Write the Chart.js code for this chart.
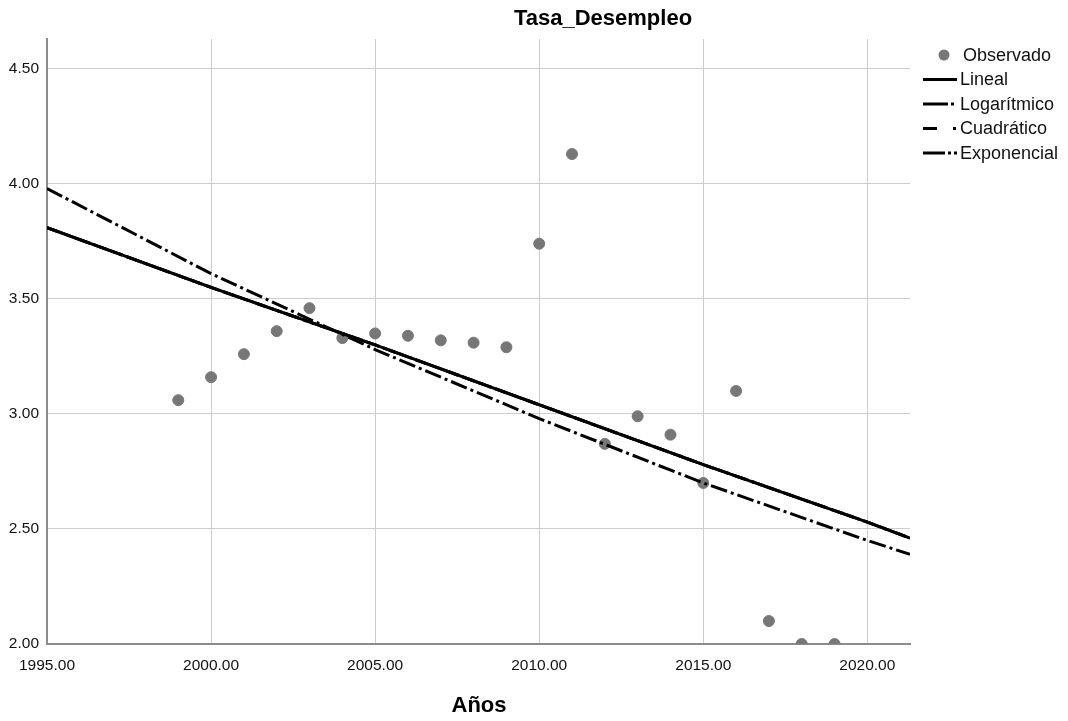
<!DOCTYPE html>
<html>
<head>
<meta charset="utf-8">
<script src="https://cdn.jsdelivr.net/npm/chart.js@4.4.0/dist/chart.umd.min.js"></script>
<style>
	html, body { margin: 0; padding: 0; background: #fff; }
	#wrap { width: 1068px; height: 721px; }
</style>
</head>
<body>
<div id="wrap"><canvas id="grafico" width="1068" height="721"></canvas></div>
<script>
// observed values
var years = [1999, 2000, 2001, 2002, 2003, 2004, 2005, 2006, 2007, 2008, 2009, 2010, 2011, 2012, 2013, 2014, 2015, 2016, 2017, 2018, 2019];
var tasa = [3.06, 3.16, 3.26, 3.36, 3.46, 3.33, 3.35, 3.34, 3.32, 3.31, 3.29, 3.74, 4.13, 2.87, 2.99, 2.91, 2.70, 3.10, 2.10, 2.00, 2.00];

// fitted curves, read at a few x positions
var fitYears = [1995, 2000, 2005, 2010, 2015, 2020, 2021.3];
var lineal = [3.81, 3.55, 3.30, 3.04, 2.78, 2.53, 2.46];
var logaritmico = [3.81, 3.55, 3.30, 3.04, 2.78, 2.53, 2.46];
var cuadratico = [3.81, 3.55, 3.30, 3.04, 2.78, 2.53, 2.46];
var exponencial = [3.98, 3.61, 3.28, 2.98, 2.70, 2.45, 2.39];

var xTicks = [1995, 2000, 2005, 2010, 2015, 2020];
var yTicks = [2.00, 2.50, 3.00, 3.50, 4.00, 4.50];

var titulo = 'Tasa_Desempleo';
var ejeX = 'Años';
var nombres = ['Observado', 'Lineal', 'Logarítmico', 'Cuadrático', 'Exponencial'];

(function() {
	var font = "'Liberation Sans', Arial, sans-serif";
	var gris = '#777777';

	function pares(xs, ys) {
		return xs.map(function(x, i) {
			return { x: x, y: ys[i] };
		});
	}

	function curva(nombre, valores, dash, orden) {
		return {
			label: nombre,
			data: pares(fitYears, valores),
			showLine: true,
			borderColor: '#000',
			borderWidth: 3,
			borderDash: dash,
			pointRadius: 0,
			order: orden
		};
	}

	// legend samples: dash patterns seen in the key
	var muestras = [null, [], [25, 3, 3, 3], [14, 16, 3, 1], [22, 3, 3, 3, 3, 0]];

	var textos = {
		id: 'textos',
		afterDraw: function(chart) {
			var ctx = chart.ctx;
			ctx.save();
			ctx.fillStyle = '#000';
			ctx.textAlign = 'center';
			ctx.textBaseline = 'middle';
			ctx.font = 'bold 22px ' + font;
			ctx.fillText(titulo, 603, 19);
			ctx.fillText(ejeX, 479, 706);

			ctx.font = '18px ' + font;
			ctx.textAlign = 'left';
			for (var i = 0; i < nombres.length; i++) {
				var y = 55 + i * 24.5;
				if (i == 0) {
					ctx.beginPath();
					ctx.fillStyle = gris;
					ctx.arc(944, y, 5.5, 0, Math.PI * 2);
					ctx.fill();
				} else {
					ctx.beginPath();
					ctx.strokeStyle = '#000';
					ctx.lineWidth = 3;
					ctx.lineCap = 'butt';
					ctx.setLineDash(muestras[i]);
					ctx.moveTo(923, y);
					ctx.lineTo(957, y);
					ctx.stroke();
					ctx.setLineDash([]);
				}
				ctx.fillStyle = '#111';
				ctx.fillText(nombres[i], i == 0 ? 963 : 960, y + 1);
			}
			ctx.restore();
		}
	};

	new Chart(document.getElementById('grafico'), {
		type: 'scatter',
		data: {
			datasets: [
				{
					label: nombres[0],
					data: pares(years, tasa),
					backgroundColor: gris,
					borderColor: gris,
					pointRadius: 5.5,
					pointHoverRadius: 5.5,
					clip: 0,
					order: 10
				},
				curva(nombres[1], lineal, [], 0),
				curva(nombres[2], logaritmico, [17, 4, 3, 4], 1),
				curva(nombres[3], cuadratico, [12, 5], 2),
				curva(nombres[4], exponencial, [17, 4, 3, 4], 3)
			]
		},
		options: {
			responsive: false,
			animation: false,
			layout: {
				padding: { left: 0, right: 158, top: 39, bottom: 0 }
			},
			plugins: {
				legend: { display: false },
				title: { display: false },
				tooltip: { enabled: false }
			},
			scales: {
				x: {
					type: 'linear',
					min: 1995,
					max: 2021.3,
					afterBuildTicks: function(scale) {
						scale.ticks = xTicks.map(function(v) { return { value: v }; });
					},
					afterFit: function(scale) {
						scale.height = 77;
					},
					grid: { color: '#cccccc', lineWidth: 1, drawTicks: false },
					border: { color: '#8c8c8c', width: 2 },
					ticks: {
						padding: 12,
						maxRotation: 0,
						color: '#111',
						font: { family: font, size: 15.5 },
						callback: function(v) { return v.toFixed(2); }
					}
				},
				y: {
					min: 2,
					max: 4.63,
					afterBuildTicks: function(scale) {
						scale.ticks = yTicks.map(function(v) { return { value: v }; });
					},
					afterFit: function(scale) {
						scale.width = 47;
					},
					grid: { color: '#cccccc', lineWidth: 1, drawTicks: false },
					border: { color: '#8c8c8c', width: 2 },
					ticks: {
						padding: 8,
						color: '#111',
						font: { family: font, size: 15.5 },
						callback: function(v) { return v.toFixed(2); }
					}
				}
			}
		},
		plugins: [textos]
	});
}());
</script>
</body>
</html>
